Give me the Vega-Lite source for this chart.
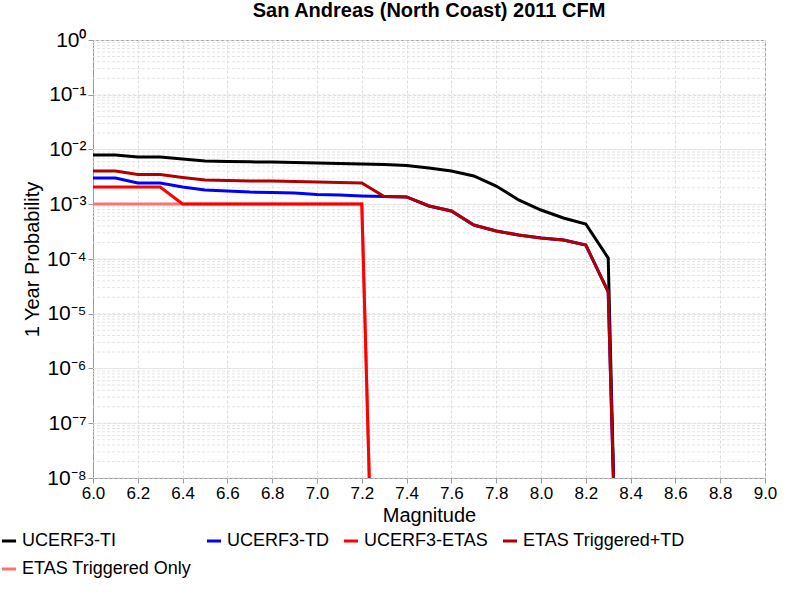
{
  "$schema": "https://vega.github.io/schema/vega-lite/v6.json",
  "autosize": "none",
  "width": 672,
  "height": 438,
  "padding": {"left": 93, "top": 40, "right": 35, "bottom": 122},
  "config": {"font": "Liberation Sans", "view": {"stroke": "#999"}},
  "title": {"text": "San Andreas (North Coast) 2011 CFM", "fontSize": 20, "fontWeight": "bold", "offset": 8},
  "datasets": {
    "minor": [
      {"v": 1e-8},{"v": 2e-8},{"v": 3e-8},{"v": 4e-8},{"v": 5e-8},{"v": 6e-8},{"v": 7e-8},{"v": 8e-8},{"v": 9e-8},
      {"v": 1e-7},{"v": 2e-7},{"v": 3e-7},{"v": 4e-7},{"v": 5e-7},{"v": 6e-7},{"v": 7e-7},{"v": 8e-7},{"v": 9e-7},
      {"v": 1e-6},{"v": 2e-6},{"v": 3e-6},{"v": 4e-6},{"v": 5e-6},{"v": 6e-6},{"v": 7e-6},{"v": 8e-6},{"v": 9e-6},
      {"v": 1e-5},{"v": 2e-5},{"v": 3e-5},{"v": 4e-5},{"v": 5e-5},{"v": 6e-5},{"v": 7e-5},{"v": 8e-5},{"v": 9e-5},
      {"v": 1e-4},{"v": 2e-4},{"v": 3e-4},{"v": 4e-4},{"v": 5e-4},{"v": 6e-4},{"v": 7e-4},{"v": 8e-4},{"v": 9e-4},
      {"v": 1e-3},{"v": 2e-3},{"v": 3e-3},{"v": 4e-3},{"v": 5e-3},{"v": 6e-3},{"v": 7e-3},{"v": 8e-3},{"v": 9e-3},
      {"v": 1e-2},{"v": 2e-2},{"v": 3e-2},{"v": 4e-2},{"v": 5e-2},{"v": 6e-2},{"v": 7e-2},{"v": 8e-2},{"v": 9e-2},
      {"v": 1e-1},{"v": 2e-1},{"v": 3e-1},{"v": 4e-1},{"v": 5e-1},{"v": 6e-1},{"v": 7e-1},{"v": 8e-1},{"v": 9e-1}
    ],
    "curves": [
      {"s": "ETAS Triggered Only", "m": 6.0, "p": 1.01e-3}, {"s": "ETAS Triggered Only", "m": 6.4, "p": 1.01e-3},
      {"s": "ETAS Triggered Only", "m": 7.2, "p": 1.01e-3}, {"s": "ETAS Triggered Only", "m": 7.24, "p": 1e-9},

      {"s": "UCERF3-TI", "m": 6.0, "p": 7.94e-3}, {"s": "UCERF3-TI", "m": 6.1, "p": 7.94e-3},
      {"s": "UCERF3-TI", "m": 6.2, "p": 7.29e-3}, {"s": "UCERF3-TI", "m": 6.3, "p": 7.29e-3},
      {"s": "UCERF3-TI", "m": 6.4, "p": 6.7e-3}, {"s": "UCERF3-TI", "m": 6.5, "p": 6.16e-3},
      {"s": "UCERF3-TI", "m": 6.6, "p": 6.04e-3}, {"s": "UCERF3-TI", "m": 6.7, "p": 5.95e-3},
      {"s": "UCERF3-TI", "m": 6.8, "p": 5.91e-3}, {"s": "UCERF3-TI", "m": 6.9, "p": 5.8e-3},
      {"s": "UCERF3-TI", "m": 7.0, "p": 5.68e-3}, {"s": "UCERF3-TI", "m": 7.1, "p": 5.55e-3},
      {"s": "UCERF3-TI", "m": 7.2, "p": 5.44e-3}, {"s": "UCERF3-TI", "m": 7.3, "p": 5.32e-3},
      {"s": "UCERF3-TI", "m": 7.4, "p": 5.1e-3}, {"s": "UCERF3-TI", "m": 7.5, "p": 4.59e-3},
      {"s": "UCERF3-TI", "m": 7.6, "p": 4.05e-3}, {"s": "UCERF3-TI", "m": 7.7, "p": 3.28e-3},
      {"s": "UCERF3-TI", "m": 7.8, "p": 2.15e-3}, {"s": "UCERF3-TI", "m": 7.9, "p": 1.2e-3},
      {"s": "UCERF3-TI", "m": 8.0, "p": 7.85e-4}, {"s": "UCERF3-TI", "m": 8.1, "p": 5.61e-4},
      {"s": "UCERF3-TI", "m": 8.2, "p": 4.36e-4}, {"s": "UCERF3-TI", "m": 8.3, "p": 1.04e-4},
      {"s": "UCERF3-TI", "m": 8.33, "p": 1e-9},

      {"s": "UCERF3-TD", "m": 6.0, "p": 3.01e-3}, {"s": "UCERF3-TD", "m": 6.1, "p": 3.01e-3},
      {"s": "UCERF3-TD", "m": 6.2, "p": 2.44e-3}, {"s": "UCERF3-TD", "m": 6.3, "p": 2.44e-3},
      {"s": "UCERF3-TD", "m": 6.4, "p": 2.07e-3}, {"s": "UCERF3-TD", "m": 6.5, "p": 1.82e-3},
      {"s": "UCERF3-TD", "m": 6.6, "p": 1.75e-3}, {"s": "UCERF3-TD", "m": 6.7, "p": 1.67e-3},
      {"s": "UCERF3-TD", "m": 6.8, "p": 1.64e-3}, {"s": "UCERF3-TD", "m": 6.9, "p": 1.61e-3},
      {"s": "UCERF3-TD", "m": 7.0, "p": 1.51e-3}, {"s": "UCERF3-TD", "m": 7.1, "p": 1.48e-3},
      {"s": "UCERF3-TD", "m": 7.2, "p": 1.42e-3}, {"s": "UCERF3-TD", "m": 7.3, "p": 1.39e-3},
      {"s": "UCERF3-TD", "m": 7.4, "p": 1.36e-3}, {"s": "UCERF3-TD", "m": 7.5, "p": 9.29e-4},
      {"s": "UCERF3-TD", "m": 7.6, "p": 7.53e-4}, {"s": "UCERF3-TD", "m": 7.7, "p": 4.18e-4},
      {"s": "UCERF3-TD", "m": 7.8, "p": 3.25e-4}, {"s": "UCERF3-TD", "m": 7.9, "p": 2.74e-4},
      {"s": "UCERF3-TD", "m": 8.0, "p": 2.42e-4}, {"s": "UCERF3-TD", "m": 8.1, "p": 2.22e-4},
      {"s": "UCERF3-TD", "m": 8.2, "p": 1.8e-4}, {"s": "UCERF3-TD", "m": 8.3, "p": 2.5e-5},
      {"s": "UCERF3-TD", "m": 8.33, "p": 1e-9},

      {"s": "UCERF3-ETAS", "m": 6.0, "p": 2.07e-3}, {"s": "UCERF3-ETAS", "m": 6.1, "p": 2.07e-3},
      {"s": "UCERF3-ETAS", "m": 6.2, "p": 2.07e-3}, {"s": "UCERF3-ETAS", "m": 6.3, "p": 2.07e-3},
      {"s": "UCERF3-ETAS", "m": 6.4, "p": 1.01e-3}, {"s": "UCERF3-ETAS", "m": 6.6, "p": 1.01e-3},
      {"s": "UCERF3-ETAS", "m": 6.8, "p": 1.01e-3}, {"s": "UCERF3-ETAS", "m": 7.0, "p": 1.01e-3},
      {"s": "UCERF3-ETAS", "m": 7.2, "p": 1.01e-3}, {"s": "UCERF3-ETAS", "m": 7.24, "p": 1e-9},

      {"s": "ETAS Triggered+TD", "m": 6.0, "p": 4.05e-3}, {"s": "ETAS Triggered+TD", "m": 6.1, "p": 4.05e-3},
      {"s": "ETAS Triggered+TD", "m": 6.2, "p": 3.49e-3}, {"s": "ETAS Triggered+TD", "m": 6.3, "p": 3.49e-3},
      {"s": "ETAS Triggered+TD", "m": 6.4, "p": 3.08e-3}, {"s": "ETAS Triggered+TD", "m": 6.5, "p": 2.77e-3},
      {"s": "ETAS Triggered+TD", "m": 6.6, "p": 2.72e-3}, {"s": "ETAS Triggered+TD", "m": 6.7, "p": 2.66e-3},
      {"s": "ETAS Triggered+TD", "m": 6.8, "p": 2.66e-3}, {"s": "ETAS Triggered+TD", "m": 6.9, "p": 2.61e-3},
      {"s": "ETAS Triggered+TD", "m": 7.0, "p": 2.55e-3}, {"s": "ETAS Triggered+TD", "m": 7.1, "p": 2.5e-3},
      {"s": "ETAS Triggered+TD", "m": 7.2, "p": 2.44e-3}, {"s": "ETAS Triggered+TD", "m": 7.3, "p": 1.39e-3},
      {"s": "ETAS Triggered+TD", "m": 7.4, "p": 1.36e-3}, {"s": "ETAS Triggered+TD", "m": 7.5, "p": 9.29e-4},
      {"s": "ETAS Triggered+TD", "m": 7.6, "p": 7.53e-4}, {"s": "ETAS Triggered+TD", "m": 7.7, "p": 4.18e-4},
      {"s": "ETAS Triggered+TD", "m": 7.8, "p": 3.25e-4}, {"s": "ETAS Triggered+TD", "m": 7.9, "p": 2.74e-4},
      {"s": "ETAS Triggered+TD", "m": 8.0, "p": 2.42e-4}, {"s": "ETAS Triggered+TD", "m": 8.1, "p": 2.22e-4},
      {"s": "ETAS Triggered+TD", "m": 8.2, "p": 1.8e-4}, {"s": "ETAS Triggered+TD", "m": 8.3, "p": 2.5e-5},
      {"s": "ETAS Triggered+TD", "m": 8.33, "p": 1e-9}
    ]
  },
  "layer": [
    {
      "data": {"name": "minor"},
      "mark": {"type": "rule", "stroke": "#e4e4e4", "strokeDash": [3, 2], "strokeWidth": 1},
      "encoding": {"y": {"field": "v", "type": "quantitative", "scale": {"type": "log", "domain": [1e-8, 1]}}}
    },
    {
      "data": {"name": "curves"},
      "mark": {"type": "line", "clip": true},
      "encoding": {
        "x": {
          "field": "m", "type": "quantitative", "title": "Magnitude",
          "scale": {"domain": [6, 9], "nice": false, "zero": false},
          "axis": {"values": [6, 6.2, 6.4, 6.6, 6.8, 7, 7.2, 7.4, 7.6, 7.8, 8, 8.2, 8.4, 8.6, 8.8, 9],
                   "labelFontSize": 17, "titleFontSize": 20, "titleFontWeight": "normal",
                   "gridDash": [3, 2], "gridColor": "#dddddd", "domainColor": "#999", "tickColor": "#999", "labelFlush": false}
        },
        "y": {
          "field": "p", "type": "quantitative", "title": "1 Year Probability",
          "scale": {"type": "log", "domain": [1e-8, 1]},
          "axis": {"values": [1e-8, 1e-7, 1e-6, 1e-5, 1e-4, 1e-3, 1e-2, 1e-1, 1],
                   "labelExpr": "['10⁻⁸','10⁻⁷','10⁻⁶','10⁻⁵','10⁻⁴','10⁻³','10⁻²','10⁻¹','10⁰'][round(log(datum.value)/LN10)+8]",
                   "labelFontSize": 21, "titleFontSize": 20, "titleFontWeight": "normal",
                   "gridDash": [3, 2], "gridColor": "#dddddd", "domainColor": "#999", "tickColor": "#999"}
        },
        "color": {
          "field": "s", "type": "nominal", "title": null,
          "scale": {"domain": ["UCERF3-TI", "UCERF3-TD", "UCERF3-ETAS", "ETAS Triggered+TD", "ETAS Triggered Only"],
                    "range": ["#000000", "#0000ff", "#ff0000", "#b00000", "#ff7070"]},
          "legend": {"orient": "none", "legendX": -93, "legendY": 492, "columns": 4, "direction": "horizontal",
                     "gridAlign": "none",
                     "symbolType": "stroke", "symbolStrokeWidth": 3, "symbolSize": 200, "labelFontSize": 18,
                     "columnPadding": 8, "rowPadding": 10, "labelLimit": 300}
        },
        "strokeWidth": {
          "field": "s", "type": "nominal", "legend": null,
          "scale": {"domain": ["UCERF3-TI", "UCERF3-TD", "UCERF3-ETAS", "ETAS Triggered+TD", "ETAS Triggered Only"],
                    "range": [3, 3, 3, 3, 1]}
        },
        "order": {"field": "m", "type": "quantitative"}
      }
    }
  ]
}
